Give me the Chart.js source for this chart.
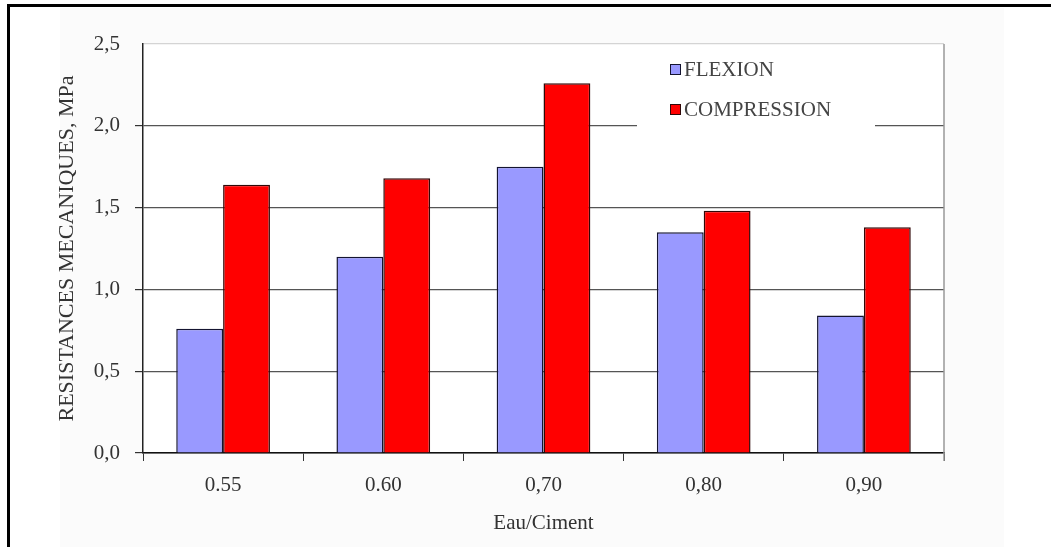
<!DOCTYPE html>
<html>
<head>
<meta charset="utf-8">
<script src="https://cdn.jsdelivr.net/npm/chart.js@4.4.1/dist/chart.umd.min.js"></script>
<style>
html,body{margin:0;padding:0;background:#fff;}
#wrap{width:1051px;height:547px;}
</style>
</head>
<body>
<div id="wrap"><canvas id="chart" width="1051" height="547"></canvas></div>
<script>
// values
const categories = ['0.55', '0.60', '0,70', '0,80', '0,90'];
const flexion = [0.76, 1.20, 1.75, 1.35, 0.84];
const compression = [1.64, 1.68, 2.26, 1.48, 1.38];
const seriesNames = ['FLEXION', 'COMPRESSION'];
const yTitle = 'RESISTANCES MECANIQUES, MPa';
const xTitle = 'Eau/Ciment';

const serif = "'Liberation Serif', 'Times New Roman', serif";

// background, outer frame and plot border
const framePlugin = {
    id: 'frame',
    beforeDraw(chart){
        const c = chart.ctx;
        c.save();
        c.fillStyle = '#ffffff';
        c.fillRect(0, 0, chart.width, chart.height);
        c.fillStyle = '#fbfbfb';
        c.fillRect(60, 8, 944, 539);
        const a = chart.chartArea;
        c.fillStyle = '#ffffff';
        c.fillRect(a.left, a.top, a.right - a.left, a.bottom - a.top);
        c.restore();
    },
    afterDraw(chart){
        const c = chart.ctx;
        const a = chart.chartArea;
        c.save();
        c.strokeStyle = '#999';
        c.lineWidth = 1.5;
        c.beginPath();
        c.moveTo(a.right, a.top);
        c.lineTo(a.right, a.bottom + 8);
        c.stroke();
        c.fillStyle = '#000';
        c.fillRect(7, 4, chart.width - 7, 3);
        c.fillRect(7, 4, 3, chart.height - 4);
        c.restore();
    }
};

// boxed legend that sits over the 2,0 gridline
const legendPlugin = {
    id: 'boxLegend',
    afterDatasetsDraw(chart){
        const c = chart.ctx;
        c.save();
        c.fillStyle = '#ffffff';
        c.fillRect(637, 50, 238, 82);
        c.font = '21px ' + serif;
        c.textBaseline = 'middle';
        c.textAlign = 'left';
        const rows = [69, 109];
        chart.data.datasets.forEach((ds, i) => {
            const y = rows[i];
            c.fillStyle = ds.backgroundColor;
            c.fillRect(670, y - 5, 11, 11);
            c.strokeStyle = ds.borderColor;
            c.lineWidth = 1;
            c.strokeRect(670.5, y - 4.5, 10, 10);
            c.fillStyle = '#444';
            c.fillText(ds.label, 684, y + 1);
        });
        c.restore();
    }
};

var ctx = document.getElementById('chart').getContext('2d');
var chart = new Chart(ctx, {
    type: 'bar',
    data: {
        labels: categories,
        datasets: [{
            label: seriesNames[0],
            data: flexion,
            backgroundColor: '#9999ff',
            borderColor: '#141430',
            borderWidth: 1.5,
            borderSkipped: 'bottom',
            barPercentage: 1,
            categoryPercentage: 0.585
        }, {
            label: seriesNames[1],
            data: compression,
            backgroundColor: '#ff0000',
            borderColor: '#300808',
            borderWidth: 1.5,
            borderSkipped: 'bottom',
            barPercentage: 1,
            categoryPercentage: 0.585
        }]
    },
    options: {
        responsive: false,
        animation: false,
        layout: {
            padding: {left: 48, right: 107, top: 44, bottom: 0}
        },
        plugins: {
            legend: {display: false},
            tooltip: {enabled: false}
        },
        scales: {
            x: {
                afterFit: (s) => { s.height = 94; },
                grid: {
                    drawOnChartArea: false,
                    drawTicks: true,
                    tickLength: 8,
                    tickColor: '#333',
                    offset: true
                },
                border: {display: true, color: '#111', width: 1.5},
                ticks: {
                    color: '#333',
                    padding: 12,
                    font: {family: serif, size: 21}
                },
                title: {
                    display: true,
                    text: xTitle,
                    color: '#333',
                    font: {family: serif, size: 21},
                    padding: {top: 0, bottom: 11}
                }
            },
            y: {
                min: 0,
                max: 2.5,
                afterFit: (s) => { s.width = 95; },
                grid: {
                    color: (c) => (c.tick && c.tick.value === 2.5) ? '#d4d4d4' : '#555',
                    tickColor: (c) => (c.tick && c.tick.value === 2.5) ? 'rgba(0,0,0,0)' : '#333',
                    lineWidth: 1.2,
                    tickLength: 8
                },
                border: {display: true, color: '#222', width: 1.5},
                ticks: {
                    stepSize: 0.5,
                    color: '#333',
                    padding: 15,
                    font: {family: serif, size: 21},
                    callback: function(value){
                        return value.toFixed(1).replace('.', ',');
                    }
                },
                title: {
                    display: true,
                    text: yTitle,
                    color: '#333',
                    font: {family: serif, size: 22},
                    padding: {top: 6, bottom: 0}
                }
            }
        }
    },
    plugins: [framePlugin, legendPlugin]
});
</script>
</body>
</html>
